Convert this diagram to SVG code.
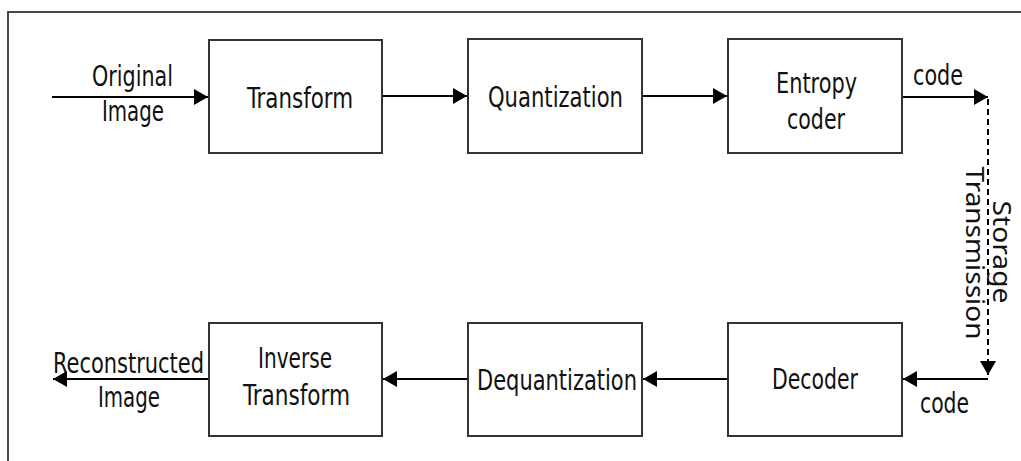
<svg xmlns="http://www.w3.org/2000/svg" width="1021" height="461" viewBox="0 0 1021 461">
<style>
.frame{fill:none;stroke:#4a4a4a;stroke-width:2}
.box{fill:#fff;stroke:#333;stroke-width:2}
.ln{fill:none;stroke:#000;stroke-width:2}
.dash{fill:none;stroke:#000;stroke-width:2;stroke-dasharray:6 4}
.t{font-family:"Liberation Sans Narrow","DejaVu Sans Condensed","Liberation Sans",sans-serif;font-size:28px;fill:#111;text-anchor:middle}
.v{font-family:"Noto Sans","DejaVu Sans",sans-serif;font-size:26px;fill:#111;text-anchor:middle}
</style>
<defs>
<marker id="ah" viewBox="0 0 14 16" refX="14" refY="8" markerWidth="14" markerHeight="16" markerUnits="userSpaceOnUse" orient="auto">
<path d="M0,0 L14,8 L0,16 Z" fill="#000"/>
</marker>
</defs>
<rect x="0" y="0" width="1021" height="461" fill="#fff"/>
<path class="frame" d="M8,461 V12 H1021"/>

<g id="connectors">
<line class="ln" x1="52" y1="97" x2="208" y2="97" marker-end="url(#ah)"/>
<line class="ln" x1="382" y1="96" x2="467" y2="96" marker-end="url(#ah)"/>
<line class="ln" x1="642" y1="96" x2="727" y2="96" marker-end="url(#ah)"/>
<line class="ln" x1="902" y1="97" x2="988" y2="97" marker-end="url(#ah)"/>
<line class="dash" x1="988" y1="99" x2="988" y2="375" marker-end="url(#ah)"/>
<line class="ln" x1="988" y1="379" x2="903" y2="379" marker-end="url(#ah)"/>
<line class="ln" x1="728" y1="379" x2="643" y2="379" marker-end="url(#ah)"/>
<line class="ln" x1="468" y1="379" x2="383" y2="379" marker-end="url(#ah)"/>
<line class="ln" x1="209" y1="379" x2="53" y2="379" marker-end="url(#ah)"/>
<text class="t" x="132.5" y="86" textLength="81" lengthAdjust="spacingAndGlyphs">Original</text>
<text class="t" x="133" y="121" textLength="62" lengthAdjust="spacingAndGlyphs">Image</text>
<text class="t" x="938" y="85" textLength="50" lengthAdjust="spacingAndGlyphs">code</text>
<text class="t" x="944.5" y="413" textLength="49" lengthAdjust="spacingAndGlyphs">code</text>
<text class="t" x="128.5" y="373" textLength="151" lengthAdjust="spacingAndGlyphs">Reconstructed</text>
<text class="t" x="129" y="407" textLength="62" lengthAdjust="spacingAndGlyphs">Image</text>
<text class="v" transform="translate(993,252) rotate(90)" textLength="103" lengthAdjust="spacingAndGlyphs">Storage</text>
<text class="v" transform="translate(966,253) rotate(90)" textLength="173" lengthAdjust="spacingAndGlyphs">Transmission</text>
</g>

<g id="transform">
<rect class="box" x="209" y="40" width="173" height="113"/>
<text class="t" x="300" y="108" textLength="106" lengthAdjust="spacingAndGlyphs">Transform</text>
</g>
<g id="quantization">
<rect class="box" x="468" y="39" width="174" height="114"/>
<text class="t" x="555.5" y="107" textLength="135" lengthAdjust="spacingAndGlyphs">Quantization</text>
</g>
<g id="entropy-coder">
<rect class="box" x="728" y="39" width="174" height="114"/>
<text class="t" x="816.5" y="93" textLength="81" lengthAdjust="spacingAndGlyphs">Entropy</text>
<text class="t" x="816" y="129" textLength="58" lengthAdjust="spacingAndGlyphs">coder</text>
</g>
<g id="inverse-transform">
<rect class="box" x="209" y="323" width="173" height="113"/>
<text class="t" x="295" y="368" textLength="74" lengthAdjust="spacingAndGlyphs">Inverse</text>
<text class="t" x="296.5" y="405" textLength="107" lengthAdjust="spacingAndGlyphs">Transform</text>
</g>
<g id="dequantization">
<rect class="box" x="468" y="323" width="174" height="113"/>
<text class="t" x="557" y="390" textLength="160" lengthAdjust="spacingAndGlyphs">Dequantization</text>
</g>
<g id="decoder">
<rect class="box" x="728" y="323" width="174" height="113"/>
<text class="t" x="815" y="389" textLength="86" lengthAdjust="spacingAndGlyphs">Decoder</text>
</g>
</svg>
